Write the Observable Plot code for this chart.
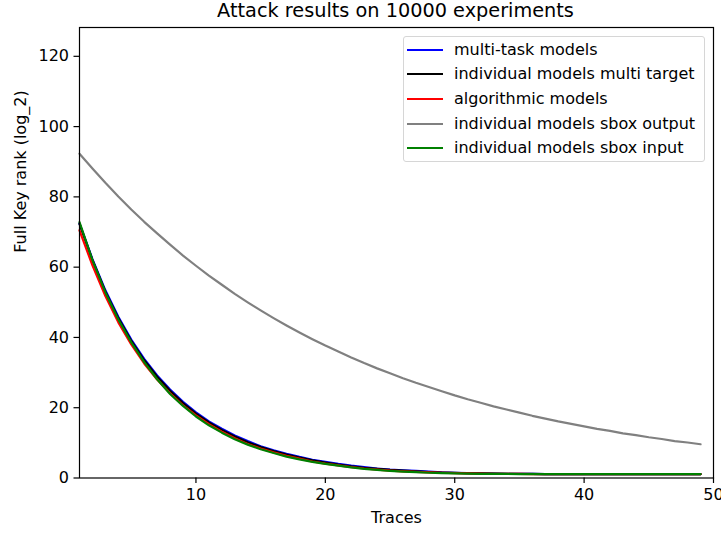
<!DOCTYPE html>
<html>
<head>
<meta charset="utf-8">
<script src="https://cdn.jsdelivr.net/npm/d3@7"></script>
<script src="https://cdn.jsdelivr.net/npm/@observablehq/plot@0.6"></script>
<style>
  html, body { margin: 0; padding: 0; background: #fff; }
  body { width: 721px; height: 534px; position: relative; font-family: "DejaVu Sans", sans-serif; color: #000; }
  #title { height: 24px; line-height: 22px; font-size: 19.3px; text-align: center; padding-left: 70px; box-sizing: border-box; white-space: nowrap; }
  #legend { position: absolute; left: 403px; top: 36px; width: 302px; height: 126px; border: 1px solid #d6d6d6; border-radius: 3px; background: rgba(255,255,255,0.8); box-sizing: border-box; }
  .entry { position: absolute; left: 0; height: 22px; font-size: 16px; line-height: 22px; white-space: nowrap; }
  .entry svg { position: absolute; left: 3px; top: 0; }
  .entry span { position: absolute; left: 50px; top: 0; }
</style>
</head>
<body>
<div id="title">Attack results on 10000 experiments</div>
<div id="chart"></div>
<div id="legend"></div>
<script>
const traces = d3.range(1, 50);
const seriesNames = [
  "multi-task models",
  "individual models multi target",
  "algorithmic models",
  "individual models sbox output",
  "individual models sbox input"
];
const seriesColors = ["#0000ff", "#000000", "#ff0000", "#808080", "#008000"];

const multiTask = [72.4,62.3,53.4,45.9,39.4,33.9,29.2,25.2,21.7,18.7,16.1,14.0,12.1,10.5,9.0,7.9,6.9,6.0,5.2,4.6,4.0,3.5,3.1,2.7,2.4,2.2,2.0,1.8,1.6,1.5,1.4,1.3,1.25,1.2,1.18,1.15,1.13,1.12,1.11,1.1,1.1,1.1,1.1,1.1,1.1,1.1,1.1,1.1,1.1];
const indivMulti = [72.3,62.0,53.0,45.5,39.0,33.5,28.8,24.8,21.3,18.3,15.8,13.7,11.8,10.2,8.8,7.7,6.7,5.8,5.0,4.4,3.8,3.3,2.9,2.6,2.3,2.1,1.9,1.7,1.55,1.45,1.35,1.3,1.25,1.2,1.18,1.15,1.13,1.12,1.11,1.1,1.1,1.1,1.1,1.1,1.1,1.1,1.1,1.1,1.1];
const algorithmic = [70.5,60.5,51.8,44.3,38.0,32.6,28.0,24.1,20.7,17.8,15.3,13.2,11.3,9.7,8.4,7.3,6.3,5.5,4.7,4.1,3.6,3.1,2.7,2.4,2.1,1.9,1.75,1.6,1.5,1.4,1.3,1.25,1.2,1.17,1.15,1.13,1.12,1.11,1.1,1.1,1.1,1.1,1.1,1.1,1.1,1.1,1.1,1.1,1.1];
const sboxOutput = [92.3,88.1,84.0,80.1,76.4,72.9,69.6,66.4,63.3,60.4,57.6,55.0,52.4,50.0,47.7,45.5,43.4,41.4,39.5,37.7,36.0,34.3,32.7,31.2,29.8,28.4,27.1,25.9,24.7,23.5,22.4,21.4,20.4,19.5,18.6,17.7,16.9,16.1,15.4,14.7,14.0,13.4,12.7,12.2,11.6,11.1,10.5,10.1,9.6];
const sboxInput = [72.8,62.0,52.8,45.1,38.6,33.0,28.1,23.9,20.5,17.5,15.0,12.9,11.0,9.5,8.2,7.1,6.1,5.3,4.6,4.0,3.5,3.0,2.6,2.3,2.0,1.8,1.65,1.5,1.4,1.3,1.25,1.2,1.17,1.15,1.13,1.12,1.11,1.1,1.1,1.1,1.1,1.1,1.1,1.1,1.1,1.1,1.1,1.1,1.1];

const xTicks = [10, 20, 30, 40, 50];
const yTicks = [0, 20, 40, 60, 80, 100, 120];

const allSeries = [multiTask, indivMulti, algorithmic, sboxOutput, sboxInput];
const rows = [];
allSeries.forEach((vals, i) => {
  vals.forEach((v, j) => rows.push({series: seriesNames[i], x: traces[j], y: v}));
});

const chart = Plot.plot({
  width: 721,
  height: 510,
  marginLeft: 79,
  marginRight: 8,
  marginTop: 3,
  marginBottom: 56.5,
  style: {fontFamily: "DejaVu Sans", fontSize: "16px", color: "#000", background: "#fff"},
  x: {domain: [1, 50]},
  y: {domain: [0, 128.2]},
  color: {domain: seriesNames, range: seriesColors},
  marks: [
    Plot.line(rows, {x: "x", y: "y", z: "series", stroke: "series", strokeWidth: 2.2}),
    Plot.frame({stroke: "#000", strokeWidth: 1.2}),
    Plot.axisX({ticks: xTicks, tickSize: 5.5, tickPadding: 5, label: null, tickFormat: d3.format("d"), strokeWidth: 1.2, fontSize: 16}),
    Plot.axisY({ticks: yTicks, tickSize: 5.5, tickPadding: 5, label: null, tickFormat: d3.format("d"), strokeWidth: 1.2, fontSize: 16}),
    Plot.text(["Traces"], {frameAnchor: "bottom", dy: 45, text: d => d, fontSize: 16}),
    Plot.text(["Full Key rank (log_2)"], {frameAnchor: "left", dx: -59, rotate: -90, text: d => d, fontSize: 16})
  ]
});
document.getElementById("chart").appendChild(chart);

const legend = document.getElementById("legend");
const entryTops = [2, 26, 51, 76, 100];
seriesNames.forEach((name, i) => {
  const e = document.createElement("div");
  e.className = "entry";
  e.style.top = entryTops[i] + "px";
  e.innerHTML = `<svg width="40" height="22"><line x1="0" x2="36" y1="11" y2="11" stroke="${seriesColors[i]}" stroke-width="2.2"/></svg><span>${name}</span>`;
  legend.appendChild(e);
});
</script>
</body>
</html>
